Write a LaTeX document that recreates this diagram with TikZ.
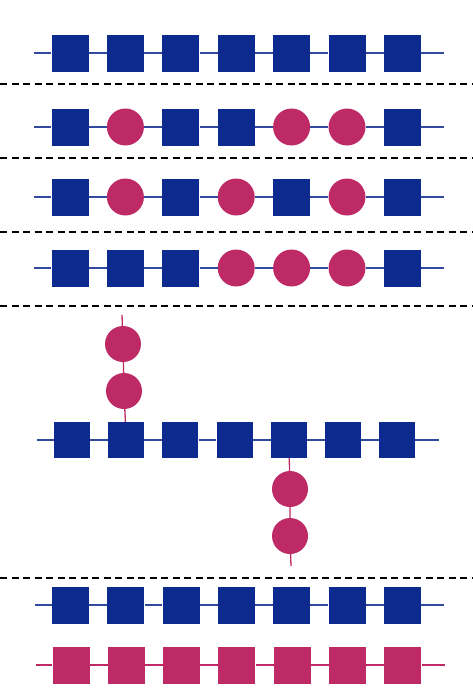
\documentclass[tikz,border=0pt]{standalone}
\usepackage{tikz}
\definecolor{glcblue}{HTML}{0D2A8F}
\definecolor{glcpink}{HTML}{BD2A66}

\begin{document}
\begin{tikzpicture}[x=1pt,y=-1pt,
  bsq/.style={fill=glcblue, minimum size=37pt, inner sep=0pt},
  psq/.style={fill=glcpink, minimum size=37pt, inner sep=0pt},
  pci/.style={circle, fill=glcpink, minimum size=37pt, inner sep=0pt},
  bline/.style={glcblue!85, line width=1.3pt},
  pline/.style={glcpink, line width=1.3pt},
  sep/.style={black, line width=1.5pt, dash pattern=on 7pt off 4.5pt}]
\useasboundingbox (0,0) rectangle (473,697);
\draw[sep] (0,84) -- (473,84);
\draw[sep] (0,158) -- (473,158);
\draw[sep] (0,232) -- (473,232);
\draw[sep] (0,306) -- (473,306);
\draw[sep] (0,578) -- (473,578);
\coordinate (aL) at (34,53);
\coordinate (aR) at (444,53);
\foreach \i/\k in {1/bsq,2/bsq,3/bsq,4/bsq,5/bsq,6/bsq,7/bsq}
  \node[\k] (a\i) at ({70+55.4*(\i-1)},53) {};
\draw[bline] (aL) -- (a1) -- (a2) -- (a3) -- (a4) -- (a5) -- (a6) -- (a7) -- (aR);
\coordinate (bL) at (34,127);
\coordinate (bR) at (444,127);
\foreach \i/\k in {1/bsq,2/pci,3/bsq,4/bsq,5/pci,6/pci,7/bsq}
  \node[\k] (b\i) at ({70+55.4*(\i-1)},127) {};
\draw[bline] (bL) -- (b1) -- (b2) -- (b3) -- (b4) -- (b5) -- (b6) -- (b7) -- (bR);
\coordinate (cL) at (34,197);
\coordinate (cR) at (444,197);
\foreach \i/\k in {1/bsq,2/pci,3/bsq,4/pci,5/bsq,6/pci,7/bsq}
  \node[\k] (c\i) at ({70+55.4*(\i-1)},197) {};
\draw[bline] (cL) -- (c1) -- (c2) -- (c3) -- (c4) -- (c5) -- (c6) -- (c7) -- (cR);
\coordinate (dL) at (34,268);
\coordinate (dR) at (444,268);
\foreach \i/\k in {1/bsq,2/bsq,3/bsq,4/pci,5/pci,6/pci,7/bsq}
  \node[\k] (d\i) at ({70+55.4*(\i-1)},268) {};
\draw[bline] (dL) -- (d1) -- (d2) -- (d3) -- (d4) -- (d5) -- (d6) -- (d7) -- (dR);
\coordinate (eL) at (37,440);
\coordinate (eR) at (439,440);
\foreach \i in {1,...,7}
  \node[bsq, minimum size=36pt] (e\i) at ({72+54.2*(\i-1)},440) {};
\draw[bline] (eL) -- (e1) -- (e2) -- (e3) -- (e4) -- (e5) -- (e6) -- (e7) -- (eR);
\node[pci, minimum size=36pt] (u1) at (124,391) {};
\node[pci, minimum size=36pt] (u2) at (123,344) {};
\coordinate (uT) at (122,315);
\draw[pline] (e2) -- (u1) -- (u2) -- (uT);
\node[pci, minimum size=36pt] (l1) at (290,489) {};
\node[pci, minimum size=36pt] (l2) at (290,536) {};
\coordinate (lB) at (291,566);
\draw[pline] (e5) -- (l1) -- (l2) -- (lB);
\coordinate (fL) at (35,605);
\coordinate (fR) at (444,605);
\foreach \i in {1,...,7}
  \node[bsq] (f\i) at ({70.5+55.3*(\i-1)},605) {};
\draw[bline] (fL) -- (f1) -- (f2) -- (f3) -- (f4) -- (f5) -- (f6) -- (f7) -- (fR);
\coordinate (gL) at (36,665);
\coordinate (gR) at (445,665);
\foreach \i in {1,...,7}
  \node[psq] (g\i) at ({71+55.3*(\i-1)},665) {};
\draw[pline] (gL) -- (g1) -- (g2) -- (g3) -- (g4) -- (g5) -- (g6) -- (g7) -- (gR);
\end{tikzpicture}
\end{document}
